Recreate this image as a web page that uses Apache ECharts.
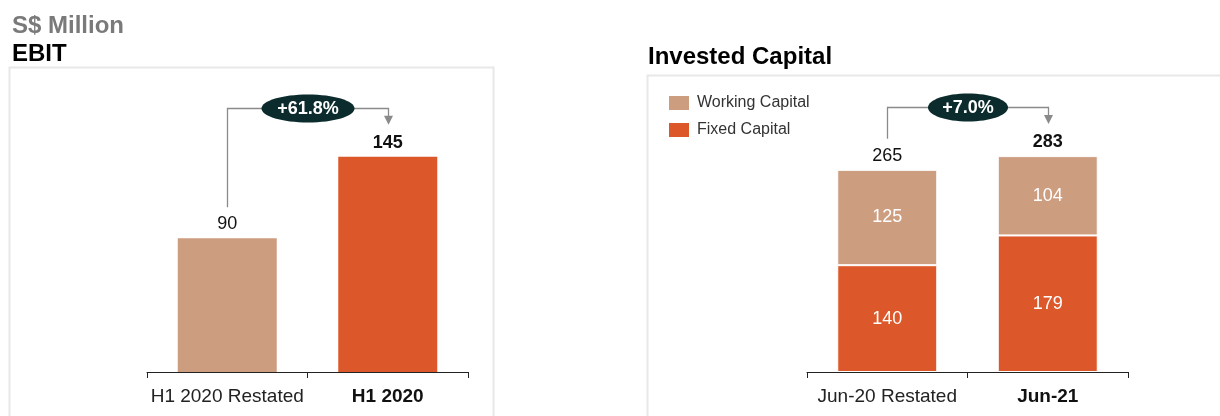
<!DOCTYPE html>
<html>
<head>
<meta charset="utf-8">
<script src="https://cdn.jsdelivr.net/npm/echarts@6/dist/echarts.min.js"></script>
<style>
  html, body { margin: 0; padding: 0; background: #fff; }
  #chart { width: 1220px; height: 416px; }
</style>
</head>
<body>
<div id="chart"></div>
<script>
// EBIT panel
var ebitCategories = ['H1 2020 Restated', 'H1 2020'];
var ebitValues = [90, 145];
var ebitChange = '+61.8%';

// Invested capital panel
var icCategories = ['Jun-20 Restated', 'Jun-21'];
var fixedCapital = [140, 179];
var workingCapital = [125, 104];
var icTotals = [265, 283];
var icChange = '+7.0%';

var TAN = '#CD9D80';
var ORANGE = '#DC582A';
var FONT = 'Liberation Sans, Arial, sans-serif';

var chart = echarts.init(document.getElementById('chart'));

// bold the last category label
function catLabel(v, i) {
  return i === 1 ? '{b|' + v + '}' : v;
}

function makeAxis(gridIndex, data) {
  return {
    type: 'category', gridIndex: gridIndex, data: data,
    axisLine: { lineStyle: { color: '#222', width: 1 } },
    axisTick: { show: true, length: 6, lineStyle: { color: '#222' } },
    axisLabel: {
      interval: 0, formatter: catLabel,
      color: '#222', fontSize: 19, fontFamily: FONT, margin: 15,
      rich: { b: { fontWeight: 'bold', fontSize: 19, fontFamily: FONT, color: '#111' } }
    }
  };
}

var option = {
  animation: false,
  textStyle: { fontFamily: FONT },
  title: [
    { text: 'S$ Million', left: 12, top: 14, padding: 0, textStyle: { fontSize: 24, fontWeight: 'bold', color: '#7a7a7a', fontFamily: FONT } },
    { text: 'EBIT', left: 12, top: 42, padding: 0, textStyle: { fontSize: 24, fontWeight: 'bold', color: '#000', fontFamily: FONT } },
    { text: 'Invested Capital', left: 648, top: 45, padding: 0, textStyle: { fontSize: 24, fontWeight: 'bold', color: '#000', fontFamily: FONT } }
  ],
  legend: {
    data: ['Working Capital', 'Fixed Capital'],
    orient: 'vertical', left: 667, top: 94, padding: 0,
    icon: 'rect', itemWidth: 22, itemHeight: 16, itemGap: 9,
    textStyle: { fontSize: 16, color: '#333', fontFamily: FONT, padding: [0, 0, 0, 2] }
  },
  grid: [
    { left: 147, width: 321, top: 75, bottom: 44 },
    { left: 807, width: 321, top: 105, bottom: 44 }
  ],
  xAxis: [makeAxis(0, ebitCategories), makeAxis(1, icCategories)],
  yAxis: [
    { gridIndex: 0, type: 'value', min: 0, max: 200, show: false },
    { gridIndex: 1, type: 'value', min: 0, max: 350, show: false }
  ],
  series: [
    {
      name: 'EBIT', type: 'bar', xAxisIndex: 0, yAxisIndex: 0, barWidth: 99,
      data: ebitValues.map(function (v, i) {
        return {
          value: v,
          itemStyle: { color: i === 0 ? TAN : ORANGE },
          label: { fontWeight: i === 1 ? 'bold' : 'normal' }
        };
      }),
      label: { show: true, position: 'top', distance: 5, fontSize: 18, color: '#111', fontFamily: FONT }
    },
    {
      name: 'Fixed Capital', type: 'bar', stack: 'ic', xAxisIndex: 1, yAxisIndex: 1, barWidth: 100,
      itemStyle: { color: ORANGE, borderColor: '#fff', borderWidth: 1 },
      data: fixedCapital,
      label: { show: true, position: 'inside', fontSize: 18, color: '#fff', fontFamily: FONT }
    },
    {
      name: 'Working Capital', type: 'bar', stack: 'ic', xAxisIndex: 1, yAxisIndex: 1, barWidth: 100,
      itemStyle: { color: TAN, borderColor: '#fff', borderWidth: 1 },
      data: workingCapital,
      label: { show: true, position: 'inside', fontSize: 18, color: '#fff', fontFamily: FONT }
    },
    {
      name: 'Total', type: 'bar', stack: 'ic', xAxisIndex: 1, yAxisIndex: 1, barWidth: 100,
      itemStyle: { color: 'transparent' },
      data: icTotals.map(function () { return 0; }),
      label: {
        show: true, position: 'top', distance: 5, fontSize: 18, color: '#111', fontFamily: FONT,
        formatter: function (p) {
          return p.dataIndex === 1 ? '{b|' + icTotals[p.dataIndex] + '}' : String(icTotals[p.dataIndex]);
        },
        rich: { b: { fontWeight: 'bold', fontSize: 18, color: '#111', fontFamily: FONT } }
      }
    }
  ]
};

chart.setOption(option);

// change annotation: bracket from first bar to second with an arrow and an ellipse badge
function bracket(gridIndex, cats, v0, v1, startGap, topY, text, badgeW) {
  var p0 = chart.convertToPixel({ gridIndex: gridIndex }, [cats[0], v0]);
  var p1 = chart.convertToPixel({ gridIndex: gridIndex }, [cats[1], v1]);
  var x0 = Math.round(p0[0]) + 0.5, x1 = Math.round(p1[0]) + 0.5;
  var yStart = p0[1] - startGap;
  var yEnd = p1[1] - 32;
  var mid = (x0 + x1) / 2;
  return [
    {
      type: 'polyline', silent: true,
      shape: { points: [[x0, yStart], [x0, topY], [x1, topY], [x1, yEnd - 8]] },
      style: { stroke: '#8a8a8a', lineWidth: 1.3, fill: null }
    },
    {
      type: 'polygon', silent: true,
      shape: { points: [[x1 - 4.5, yEnd - 9], [x1 + 4.5, yEnd - 9], [x1, yEnd]] },
      style: { fill: '#8a8a8a' }
    },
    {
      type: 'ellipse', silent: true,
      shape: { cx: mid, cy: topY, rx: badgeW / 2, ry: 14 },
      style: { fill: '#0c2b2c' }
    },
    {
      type: 'text', silent: true, x: mid, y: topY + 1,
      style: { text: text, fill: '#fff', font: 'bold 18px ' + FONT, align: 'center', verticalAlign: 'middle' }
    }
  ];
}

var graphics = [
  { type: 'rect', silent: true, shape: { x: 9.5, y: 67.5, width: 484, height: 360 }, style: { fill: null, stroke: '#e8e8e8', lineWidth: 2 } },
  { type: 'rect', silent: true, shape: { x: 647.5, y: 75.5, width: 600, height: 360 }, style: { fill: null, stroke: '#e8e8e8', lineWidth: 2 } }
];
graphics = graphics
  .concat(bracket(0, ebitCategories, ebitValues[0], ebitValues[1], 31, 108.5, ebitChange, 93))
  .concat(bracket(1, icCategories, icTotals[0], icTotals[1], 31, 107.5, icChange, 80));

chart.setOption({ graphic: graphics });
</script>
</body>
</html>
